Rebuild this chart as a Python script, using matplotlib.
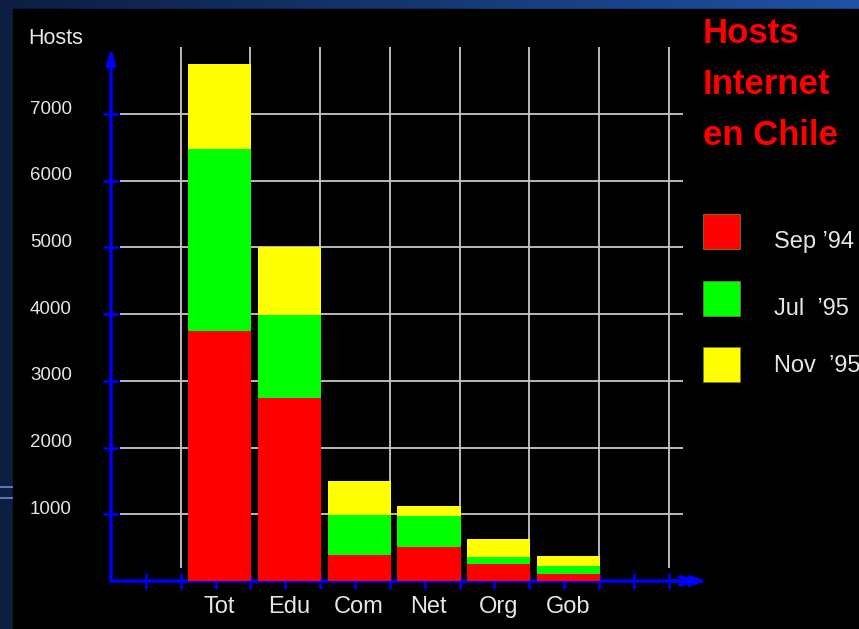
import numpy as np
import matplotlib
matplotlib.use('Agg')
import matplotlib.pyplot as plt
import matplotlib.transforms as mtransforms
from matplotlib.patches import Rectangle

# data
categories = ['Tot', 'Edu', 'Com', 'Net', 'Org', 'Gob']
sep94 = [3750, 2750, 385, 505, 255, 105]
jul95 = [6480, 3990, 985, 980, 355, 230]
nov95 = [7750, 5000, 1500, 1130, 630, 380]
series_names = ['Sep \u201994', 'Jul  \u201995', 'Nov  \u201995']
series_colors = ['#ff0000', '#00ff00', '#ffff00']
yticks = [1000, 2000, 3000, 4000, 5000, 6000, 7000]

W, H = 859, 629
plt.rcParams['font.family'] = ['Liberation Sans', 'DejaVu Sans']

fig = plt.figure(figsize=(W / 100, H / 100), dpi=100)


def fx(x):
    return x / W


def fy(y):
    return 1 - y / H


# background: blue gradient with black panel
bg = fig.add_axes([0, 0, 1, 1], zorder=-10)
gx = np.linspace(0, 1, 200)[None, :]
gy = np.linspace(0, 1, 200)[:, None]
c0 = np.array([12, 30, 66]) / 255
c1 = np.array([30, 82, 165]) / 255
t = (gx * (1 - 0.6 * gy))[..., None]
img = c0 + (c1 - c0) * t
bg.imshow(img, extent=[0, 1, 0, 1], aspect='auto', origin='upper')
bg.add_patch(Rectangle((fx(13), 0), 1 - fx(13), fy(9), color='black'))
bg.hlines([fy(487), fy(498)], 0, fx(13), color='#6c8cc8', lw=1.2)
bg.set_xlim(0, 1)
bg.set_ylim(0, 1)
bg.axis('off')

# main plot, placed so that the axis origin lands on the reference origin
x0, y0 = 111, 581
ux, uy = 69.7, 66.7 / 1000
xmax, ymax = 8.7, 8200
ax = fig.add_axes([fx(x0), fy(y0), xmax * ux / W, ymax * uy / H])
ax.set_facecolor('none')
ax.set_xlim(0, xmax)
ax.set_ylim(0, ymax)
for s in ax.spines.values():
    s.set_visible(False)

# grid
ax.hlines(yticks, 0.13, 8.2, color='#c8c8c8', lw=1.3, zorder=0.3)
ax.vlines(np.arange(1, 9), 200, 8000, color='#c8c8c8', lw=1.3, zorder=0.3)

# axes with arrows
ax.annotate('', xy=(8.55, 0), xytext=(0, 0), annotation_clip=False,
            arrowprops=dict(arrowstyle='->,head_length=0.9,head_width=0.3',
                            color='#0000ff', lw=2.5, shrinkA=0, shrinkB=0),
            zorder=0.5)
ax.annotate('', xy=(8.42, 0), xytext=(8.0, 0), annotation_clip=False,
            arrowprops=dict(arrowstyle='->,head_length=0.9,head_width=0.3',
                            color='#0000ff', lw=2.5, shrinkA=0, shrinkB=0),
            zorder=0.5)
ax.annotate('', xy=(0, 8000), xytext=(0, 0), annotation_clip=False,
            arrowprops=dict(arrowstyle='-|>,head_length=0.9,head_width=0.25',
                            color='#0000ff', lw=2.5, shrinkA=0, shrinkB=0),
            zorder=0.5)

# bars, drawn latest date first so earlier dates sit in front
base = -25
pos = np.arange(len(categories)) + 1.11
for vals, col in zip([nov95, jul95, sep94], series_colors[::-1]):
    ax.bar(pos, np.array(vals) - base, width=0.905, align='edge',
           bottom=base, color=col, zorder=2)

# ticks
ax.set_axisbelow(True)
ax.set_yticks(yticks)
ax.set_yticklabels([str(v) for v in yticks])
ax.tick_params(axis='y', direction='inout', length=12.2, width=1.8,
               color='#0000ff', labelcolor='#e6e6e6', labelsize=13.5, pad=22)
# labels sit just above their tick in the reference
shift = mtransforms.ScaledTranslation(0, 7 / 100, fig.dpi_scale_trans)
for lab in ax.get_yticklabels():
    lab.set_transform(lab.get_transform() + shift)
ax.set_xticks(np.arange(0.5, 8.01, 0.5))
ax.set_xticklabels([])
ax.tick_params(axis='x', which='major', direction='inout', length=11,
               width=1.8, color='#0000ff')
ax.set_xticks(pos + 0.445, minor=True)
ax.set_xticklabels(categories, minor=True)
ax.tick_params(axis='x', which='minor', length=0, pad=11,
               labelcolor='#e6e6e6', labelsize=17)

fig.text(fx(28), fy(44), 'Hosts', color='#e6e6e6', fontsize=15.5,
         va='baseline', ha='left')

# title
for line, b in zip(['Hosts', 'Internet', 'en Chile'], [43, 94, 145]):
    fig.text(fx(703), fy(b), line, color='#ff0000', fontsize=25,
             fontweight='bold', va='baseline', ha='left')

# legend
for name, col, top, b in zip(series_names, series_colors,
                             [214, 281, 347], [248, 315, 372]):
    fig.patches.append(Rectangle((fx(703), fy(top + 35)), 37 / W, 35 / H,
                                 facecolor=col, edgecolor='#808000', lw=0.6,
                                 transform=fig.transFigure, figure=fig))
    fig.text(fx(774), fy(b), name, color='#e6e6e6', fontsize=17,
             va='baseline', ha='left')

fig.savefig('out.png', dpi=100, facecolor='black')
